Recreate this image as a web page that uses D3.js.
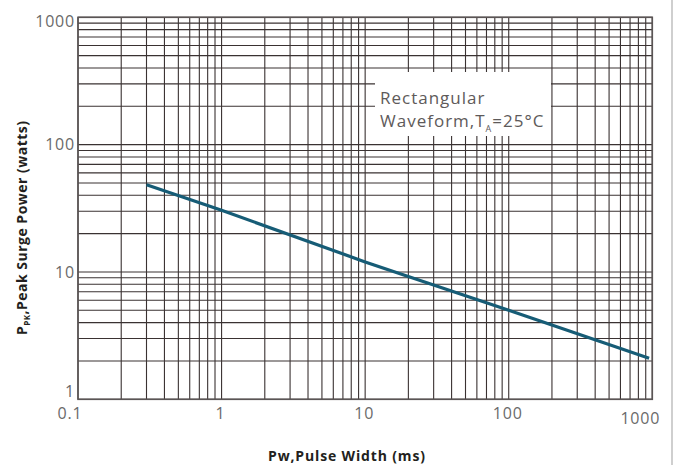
<!DOCTYPE html>
<html>
<head>
<meta charset="utf-8">
<script src="https://cdn.jsdelivr.net/npm/d3@7"></script>
<style>
  html, body { margin: 0; padding: 0; background: #fff; }
  svg { display: block; }
</style>
</head>
<body>
<svg id="chart" width="677" height="465"></svg>
<script>
// ---- data ----
const xTicks = [0.1, 1, 10, 100, 1000];
const xTickLabels = ["0.1", "1", "10", "100", "1000"];
const yTicks = [1, 10, 100, 1000];
const yTickLabels = ["1", "10", "100", "1000"];
const pulseWidth = [0.3, 1, 10, 100, 950];      // ms
const peakPower  = [48.5, 30.5, 12, 5, 2.1];    // watts
const noteLine1 = "Rectangular";
const xTitle = "Pw,Pulse Width (ms)";

(function () {
// ---- layout ----
const svg = d3.select("#chart");
const mLeft = 78, mRight = 652.3, mTop = 17.3, mBottom = 399.3;

const x = d3.scaleLog().domain([0.1, 1000]).range([mLeft, mRight]);
const y = d3.scaleLog().domain([1, 1000]).range([mBottom, mTop]);

function gridValues(lo, hi) {
  const out = [];
  for (let d = lo; d < hi * 0.999; d *= 10) {
    for (let k = 1; k <= 9; k++) out.push(d * k);
  }
  out.push(hi);
  return out;
}
const gx = gridValues(0.1, 1000);
const gy = gridValues(1, 1000);

const gridColor = "#3a3232";
const g = svg.append("g");

g.selectAll("line.vx").data(gx).join("line")
  .attr("x1", d => x(d)).attr("x2", d => x(d))
  .attr("y1", mTop).attr("y2", mBottom)
  .attr("stroke", gridColor).attr("stroke-width", 1.1);

g.selectAll("line.hy").data(gy).join("line")
  .attr("y1", d => y(d)).attr("y2", d => y(d))
  .attr("x1", mLeft).attr("x2", mRight)
  .attr("stroke", gridColor).attr("stroke-width", 1.1);

// frame
svg.append("rect")
  .attr("x", mLeft).attr("y", mTop)
  .attr("width", mRight - mLeft).attr("height", mBottom - mTop)
  .attr("fill", "none").attr("stroke", "#5a5555").attr("stroke-width", 1.6);

// annotation box
svg.append("rect")
  .attr("x", 375).attr("y", 72).attr("width", 176).attr("height", 64)
  .attr("fill", "#fff");
const note = svg.append("g")
  .attr("font-family", "'Open Sans', sans-serif")
  .attr("font-size", 17).attr("fill", "#5e5a5a")
  .attr("letter-spacing", 1);
note.append("text").attr("x", 380).attr("y", 104).text(noteLine1);
const t2 = note.append("text").attr("x", 380).attr("y", 127);
t2.append("tspan").text("Waveform,T");
t2.append("tspan").attr("font-size", 9).attr("dy", 5).text("A");
t2.append("tspan").attr("dy", -5).text("=25°C");

// curve
const line = d3.line().x(d => x(d[0])).y(d => y(d[1]));
svg.append("path")
  .datum(pulseWidth.map((v, i) => [v, peakPower[i]]))
  .attr("d", line)
  .attr("fill", "none")
  .attr("stroke", "#165c76")
  .attr("stroke-width", 3.2)
  .attr("stroke-linecap", "butt");

// tick labels
const tickFont = "'Open Sans', sans-serif";
svg.append("g").selectAll("text").data(xTicks).join("text")
  .attr("x", d => x(d))
  .attr("y", 418.5)
  .attr("dx", (d, i) => i === 0 ? -8 : (i === xTicks.length - 1 ? -12 : -1))
  .attr("dy", (d, i) => i === xTicks.length - 1 ? 5 : 0)
  .attr("text-anchor", "middle")
  .attr("font-family", tickFont).attr("font-size", 16)
  .attr("letter-spacing", 0.8)
  .attr("fill", "#6a6a6a")
  .text((d, i) => xTickLabels[i]);

svg.append("g").selectAll("text").data(yTicks).join("text")
  .attr("x", 75)
  .attr("y", d => y(d))
  .attr("dy", (d, i) => i === 0 ? -2.5 : (i === yTicks.length - 1 ? 9.5 : 5.8))
  .attr("text-anchor", "end")
  .attr("font-family", tickFont).attr("font-size", 16)
  .attr("letter-spacing", 0.8)
  .attr("fill", "#6a6a6a")
  .text((d, i) => yTickLabels[i]);

// axis titles
svg.append("text")
  .attr("x", 268).attr("y", 461)
  .attr("textLength", 157).attr("lengthAdjust", "spacing")
  .attr("font-family", tickFont).attr("font-weight", "bold")
  .attr("font-size", 14).attr("fill", "#231f20")
  .text(xTitle);

const yt = svg.append("text")
  .attr("transform", "translate(27,335) rotate(-90)")
  .attr("textLength", 214).attr("lengthAdjust", "spacing")
  .attr("font-family", tickFont).attr("font-weight", "bold")
  .attr("font-size", 14).attr("fill", "#231f20");
yt.append("tspan").text("P");
yt.append("tspan").attr("font-size", 8).attr("dy", 3).text("PK");
yt.append("tspan").attr("dy", -3).text(",Peak Surge Power (watts)");

// page edge line on right
svg.append("line")
  .attr("x1", 672).attr("x2", 672).attr("y1", 0).attr("y2", 465)
  .attr("stroke", "#cfcfcf").attr("stroke-width", 2);
})();
</script>
</body>
</html>
